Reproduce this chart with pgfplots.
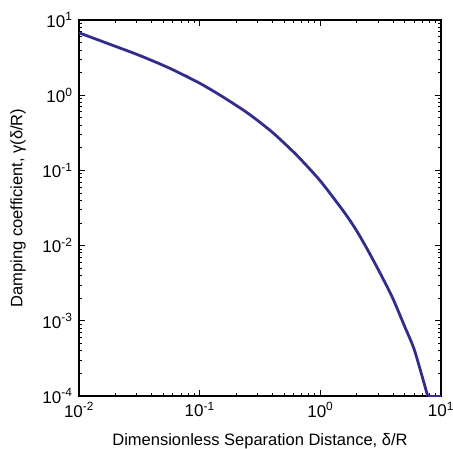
\documentclass[border=0pt]{standalone}
\usepackage{fontspec}
\setmainfont{Liberation Sans}
\usepackage{pgfplots}
\pgfplotsset{compat=1.18}
\definecolor{curve}{RGB}{50,45,140}
\pgfplotstableread{
x y
0.01 6.76
0.0178 4.79
0.0316 3.39
0.0562 2.29
0.1 1.445
0.1585 0.933
0.2512 0.575
0.3981 0.324
0.631 0.162
1.0 0.0724
1.585 0.0275
1.995 0.01585
2.512 0.00832
3.162 0.00417
3.981 0.00200
5.012 0.000832
6.026 0.000407
7.76 0.0001
}\gammadata
\pgfplotstableread{
x y
7.76 0.0001
10 0.0001
}\taildata
\begin{document}
\begin{tikzpicture}[x=1pt,y=1pt]
\begin{axis}[
  at={(0,0)}, anchor=south west,
  scale only axis, width=362pt, height=376pt,
  xmode=log, ymode=log,
  xmin=0.01, xmax=10, ymin=1e-4, ymax=10,
  xtick={0.01,0.1,1,10},
  xticklabels={10\textsuperscript{-2},10\textsuperscript{-1},10\textsuperscript{0},10\textsuperscript{1}},
  ytick={1e-4,1e-3,1e-2,1e-1,1,10},
  yticklabels={10\textsuperscript{-4},10\textsuperscript{-3},10\textsuperscript{-2},10\textsuperscript{-1},10\textsuperscript{0},10\textsuperscript{1}},
  tick align=inside,
  major tick length=6pt, minor tick length=3.5pt,
  axis line style={line width=1.3pt},
  every tick/.style={black, line width=0.8pt},
  tick label style={font=\fontsize{17}{20}\selectfont},
  label style={font=\fontsize{16.5}{19}\selectfont},
  xticklabel style={yshift=-3pt},
  yticklabel style={xshift=-3pt},
  xlabel={Dimensionless Separation Distance, δ/R},
  ylabel={Damping coefficient, γ(δ/R)},
  xlabel style={at={(axis description cs:0.5,-0.12)}, anchor=center},
  ylabel style={at={(axis description cs:-0.1685,0.5)}, anchor=center},
  clip=false,
]
\addplot[curve, line width=2.8pt, smooth, tension=0.4] table {\gammadata};
\addplot[curve, line width=2.8pt] table {\taildata};
\end{axis}
\pgfresetboundingbox
\path[use as bounding box] (-79pt,-53pt) rectangle (374pt,396pt);
\end{tikzpicture}
\end{document}
